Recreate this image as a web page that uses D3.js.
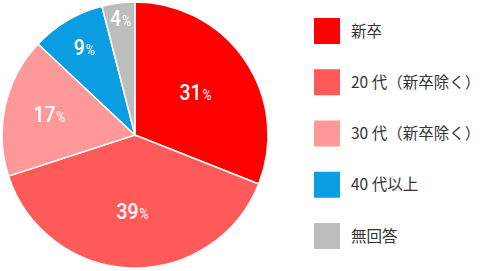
<!DOCTYPE html>
<html lang="ja"><head><meta charset="UTF-8">
	<title>pie</title>
	<script src="https://d3js.org/d3.v7.min.js"></script>
	<style type="text/css">
		body { margin: 0; background: #fff; }
	</style>
</head>
<body>
	<script type="text/javascript">

		var w = 483;
		var h = 271;

		var categories = ["新卒", "20 代（新卒除く）", "30 代（新卒除く）", "40 代以上", "無回答"];
		var values = [31, 39, 17, 9, 4];
		var colors = ["#ff0000", "#ff5a5a", "#ff9898", "#0a9de2", "#bdbdbd"];
		// how far out each label sits, as a share of the radius
		var labelRadius = [0.55, 0.59, 0.66, 0.75, 0.87];

		var cx = 135, cy = 135, r = 133;

		var svg = d3.select("body")
					.append("svg")
					.attr("width", w)
					.attr("height", h);

		var pie = d3.pie().sort(null).value(function(d) { return d; });
		var arcs = pie(values);

		var arc = d3.arc().innerRadius(0).outerRadius(r);

		var g = svg.append("g")
				   .attr("transform", "translate(" + cx + "," + cy + ")");

		g.selectAll("path")
		 .data(arcs)
		 .enter()
		 .append("path")
		 .attr("d", arc)
		 .attr("fill", function(d, i) { return colors[i]; })
		 .attr("stroke", "#fff")
		 .attr("stroke-width", 1.5);

		var labels = g.selectAll("g.lab")
		 .data(arcs)
		 .enter()
		 .append("g")
		 .attr("class", "lab")
		 .attr("transform", function(d, i) {
		 	var a = (d.startAngle + d.endAngle) / 2;
		 	var p = r * labelRadius[i];
		 	return "translate(" + (Math.sin(a) * p) + "," + (-Math.cos(a) * p) + ") scale(0.88,1)";
		 });

		var t = labels.append("text")
		 .attr("text-anchor", "middle")
		 .attr("dy", "0.36em")
		 .attr("font-family", "Roboto, sans-serif")
		 .attr("font-weight", 500)
		 .attr("fill", "#fff");
		t.append("tspan")
		 .attr("font-size", "22px")
		 .text(function(d) { return d.value; });
		t.append("tspan")
		 .attr("font-size", "14px")
		 .attr("font-weight", 400)
		 .attr("dx", "1")
		 .text("%");

		// legend
		var legend = svg.append("g").attr("transform", "translate(314,18)");
		var ly = d3.scalePoint().domain(categories).range([0, 205]);

		var item = legend.selectAll("g")
		 .data(categories)
		 .enter()
		 .append("g")
		 .attr("transform", function(d) { return "translate(0," + ly(d) + ")"; });

		item.append("rect")
		 .attr("width", 26)
		 .attr("height", 26)
		 .attr("fill", function(d, i) { return colors[i]; });

		item.append("text")
		 .attr("x", 37)
		 .attr("y", 13)
		 .attr("dy", "0.36em")
		 .attr("font-family", "'Noto Sans CJK JP', sans-serif")
		 .attr("font-size", "15.5px")
		 .attr("fill", "#333")
		 .text(function(d) { return d; });

	</script>
</body>
</html>
